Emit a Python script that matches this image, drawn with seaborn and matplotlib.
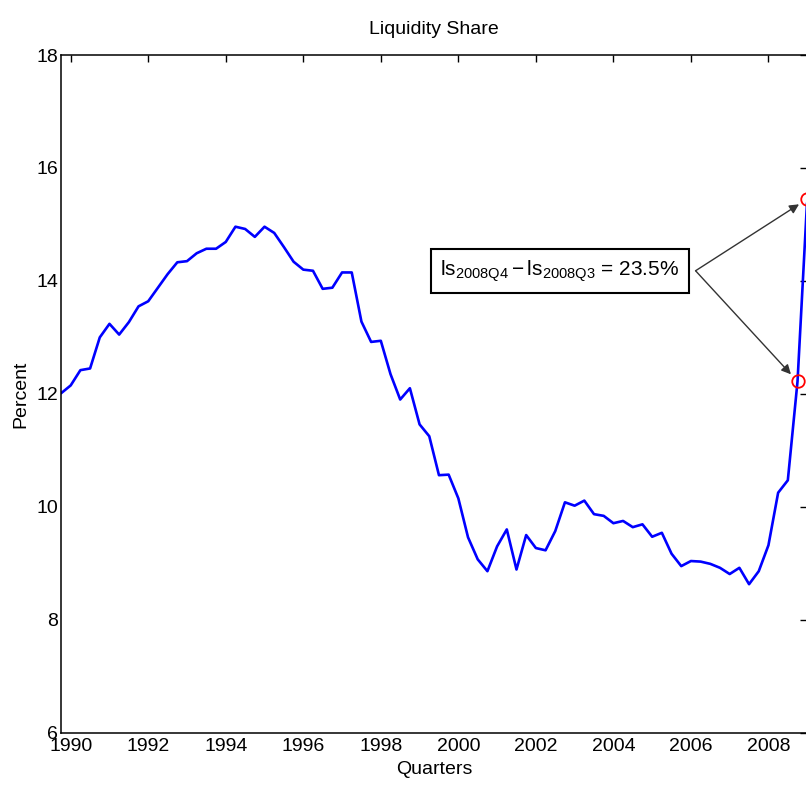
import numpy as np
import pandas as pd
import matplotlib
matplotlib.use("Agg")
import matplotlib.pyplot as plt
import seaborn as sns
from matplotlib import font_manager

# Quarterly liquidity share, 1989Q3 - 2008Q4 (percent)
quarters = pd.period_range("1989Q3", "2008Q4", freq="Q")
liquidity_share = [
    12.01, 12.15, 12.42, 12.45, 13.00, 13.24, 13.05, 13.27, 13.55, 13.64,
    13.88, 14.12, 14.33, 14.35, 14.49, 14.57, 14.57, 14.69, 14.96, 14.92,
    14.78, 14.96, 14.85, 14.60, 14.34, 14.20, 14.18, 13.86, 13.88, 14.15,
    14.15, 13.28, 12.92, 12.94, 12.35, 11.90, 12.10, 11.46, 11.25, 10.56,
    10.57, 10.15, 9.46, 9.07, 8.86, 9.30, 9.60, 8.89, 9.50, 9.27,
    9.23, 9.57, 10.08, 10.02, 10.11, 9.87, 9.84, 9.71, 9.75, 9.64,
    9.69, 9.47, 9.54, 9.17, 8.95, 9.04, 9.03, 8.99, 8.92, 8.81,
    8.92, 8.63, 8.86, 9.32, 10.25, 10.47, 12.22, 15.45,
]
highlight_quarters = ["2008Q3", "2008Q4"]

title = "Liquidity Share"
x_label = "Quarters"
y_label = "Percent"
x_ticks = [1990, 1992, 1994, 1996, 1998, 2000, 2002, 2004, 2006, 2008]
y_ticks = [6, 8, 10, 12, 14, 16, 18]
note = r"$\mathregular{ls_{2008Q4} - ls_{2008Q3}}$ = 23.5%"

# time axis: quarter q of year y sits at y + q/4
df = pd.DataFrame({
    "quarter": quarters.astype(str),
    "t": quarters.year + quarters.quarter / 4.0,
    "share": liquidity_share,
})

sns.set_theme(style="white")
available = {f.name for f in font_manager.fontManager.ttflist}
base_font = "Liberation Sans Narrow" if "Liberation Sans Narrow" in available else "Liberation Sans"
plt.rcParams["font.family"] = [base_font, "DejaVu Sans"]
plt.rcParams["mathtext.fontset"] = "custom"
plt.rcParams["mathtext.rm"] = base_font
plt.rcParams["mathtext.it"] = base_font
plt.rcParams["mathtext.bf"] = base_font
plt.rcParams["text.color"] = "black"
plt.rcParams["axes.labelcolor"] = "black"

fig = plt.figure(figsize=(8.06, 7.85), dpi=100)
ax = fig.add_axes([0.0757, 0.0666, 0.9258, 0.8633])

sns.lineplot(data=df, x="t", y="share", color="blue", linewidth=1.9, ax=ax)

hl = df[df["quarter"].isin(highlight_quarters)]
ax.plot(hl["t"], hl["share"], linestyle="none", marker="o", markersize=9,
        markerfacecolor="none", markeredgecolor="red", markeredgewidth=1.3,
        clip_on=False, zorder=5)

ax.set_xlim(df["t"].iloc[0], df["t"].iloc[-1])
ax.set_ylim(y_ticks[0], y_ticks[-1])
ax.set_xticks(x_ticks)
ax.set_yticks(y_ticks)
ax.tick_params(direction="in", length=5, width=1.0, top=True, right=True,
               labelsize=14, colors="black")
ax.tick_params(axis="x", pad=4)
ax.tick_params(axis="y", pad=2)
for s in ax.spines.values():
    s.set_visible(True)
    s.set_linewidth(1.1)
    s.set_color("black")

ax.set_title(title, fontsize=14, pad=15)
ax.set_xlabel(x_label, fontsize=14, labelpad=4)
ax.set_ylabel(y_label, fontsize=14, labelpad=5)

# boxed note with arrows to the two highlighted quarters
ax.text(2002.62, 14.17, note, ha="center", va="center", fontsize=15,
        bbox=dict(boxstyle="square,pad=0.45", fc="white", ec="black", lw=1.5))
for _, row in hl.iterrows():
    ax.annotate("", xy=(row["t"], row["share"]), xytext=(2006.12, 14.18),
                arrowprops=dict(arrowstyle="-|>", color="#333333", lw=1.0,
                                shrinkA=0, shrinkB=7, mutation_scale=14))

fig.savefig("out.png", dpi=100)
